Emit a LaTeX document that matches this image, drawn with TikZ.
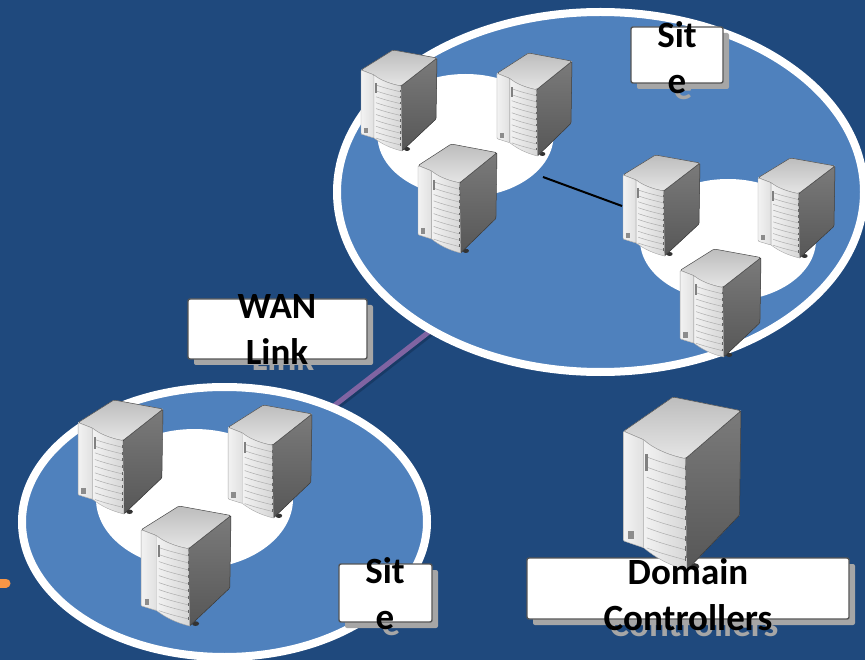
\documentclass[tikz,border=0pt]{standalone}
\usepackage{fontspec}
\setmainfont{Carlito}
\usetikzlibrary{shapes.geometric,shadows}
\definecolor{bgblue}{HTML}{1F497D}
\definecolor{siteblue}{HTML}{4F81BD}
\definecolor{wanpurple}{HTML}{8064A2}
\definecolor{lineshadow}{HTML}{183A66}
\definecolor{boxedge}{HTML}{555555}
\definecolor{shadowgrey}{HTML}{A6A6A6}
\definecolor{dashorange}{HTML}{F79646}
\tikzset{
  x=1pt,y=-1pt,
  sitearea/.style={ellipse,draw=white,fill=siteblue,line width=8pt,inner sep=0pt},
  blob/.style={ellipse,fill=white,inner sep=0pt},
  labelbox/.style={draw=boxedge,fill=white,line width=1.4pt,rounded corners=2pt,inner sep=0pt,
     copy shadow={shadow xshift=6pt,shadow yshift=-6pt,fill=shadowgrey,draw=none}},
  labeltext/.style={font=\fontsize{37}{46}\selectfont\bfseries,align=center,inner sep=0pt,text=black},
  labelshadow/.style={labeltext,text=shadowgrey},
  srv/.style 2 args={xscale=#1/77,yscale=#2/101},
  server/.pic={
    \coordinate (-left) at (0,51);
    % feet
    \fill[black!80] (5,83) ellipse[x radius=3,y radius=2];
    \fill[black!80] (47,99) ellipse[x radius=3,y radius=2];
    \fill[black!80] (71,71) ellipse[x radius=2,y radius=2];
    % body base
    \fill[black!15] (1,20) -- (33,0) -- (77,8) -- (76,69) -- (42,101) -- (14,88) -- (1,84) -- cycle;
    % right side
    \shade[top color=black!52,bottom color=black!66,draw=black!80,line width=.5pt,rounded corners=1pt]
      (41,36) -- (77,8) -- (76,69) -- (42,101) -- cycle;
    % top
    \shade[top color=black!26,bottom color=black!10,draw=black!70,line width=.5pt,rounded corners=1.5pt]
      (1,20) -- (33,0) -- (77,8) -- (41,36) .. controls (30,34) and (20,30) .. (14,25) -- cycle;
    % left strip
    \shade[left color=black!5,right color=black!12,draw=black!35,line width=.4pt,rounded corners=1pt]
      (1,20) -- (14,25) -- (14,88) -- (1,84) -- cycle;
    % door
    \shade[left color=black!5,right color=black!16,draw=black!35,line width=.4pt]
      (14,25) .. controls (20,30) and (30,34) .. (41,36) -- (42,101)
       .. controls (30,98) and (22,94) .. (14,88) -- cycle;
    % slats
    \foreach \k in {0,...,9}{
      \draw[black!32,line width=.5pt] (16,{35+5.9*\k}) .. controls (25,{38+5.9*\k}) .. (41,{42+5.9*\k});
      \draw[black!60,line width=.5pt] (40.7,{40+5.9*\k}) -- (40.7,{42.5+5.9*\k});
    }
    % indicator and button
    \fill[black!50] (15,33) rectangle (17,43);
    \fill[black!45] (4,78) rectangle (8,83);
  }
}
\begin{document}
\begin{tikzpicture}
\path[use as bounding box,fill=bgblue] (0,0) rectangle (865,660);
\begin{scope}
\clip (0,0) rectangle (865,660);
% orange fragment
\coordinate (dashA) at (-8,583);
\coordinate (dashB) at (6,583);
\draw[dashorange,line width=9pt,line cap=round] (dashA) -- (dashB);
% WAN link
\coordinate (wanA) at (440,323.3);
\coordinate (wanB) at (320,416.7);
\draw[lineshadow,line width=5pt] ([shift={(2,2)}]wanA) -- ([shift={(2,2)}]wanB);
\draw[wanpurple,line width=5pt] (wanA) -- (wanB);
% site areas
\node[sitearea,minimum width=527pt,minimum height=360pt] (site1) at (600.5,192) {};
\node[sitearea,minimum width=405pt,minimum height=270pt] (site2) at (224.5,522) {};
\node[blob,minimum width=176pt,minimum height=123pt] (blobA) at (465.5,135.5) {};
\node[blob,minimum width=176pt,minimum height=122pt] (blobB) at (728,240) {};
\node[blob,minimum width=197pt,minimum height=140pt] (blobC) at (194.5,499) {};
% text shadows
\node[labelshadow] (wanS) at (283,336) {WAN\\Link};
\node[labelshadow] (siteAS) at (683,64) {Sit\\e};
\node[labelshadow] (siteBS) at (391,600) {Sit\\e};
\node[labelshadow] (dcS) at (694,601) {Domain\\Controllers};
% label boxes
\node[labelbox,minimum width=179pt,minimum height=60pt] (wanbox) at (277.5,329) {};
\node[labelbox,minimum width=92pt,minimum height=56pt] (siteAbox) at (677,55) {};
\node[labelbox,minimum width=93pt,minimum height=58pt] (siteBbox) at (385.5,593) {};
\node[labelbox,minimum width=322pt,minimum height=61pt] (dcbox) at (688,588.5) {};
% servers
\pic (s1) [srv={77}{101}] at (360,50) {server};
\pic (s2) [srv={76}{103}] at (496,53) {server};
\pic (s3) [srv={80}{109}] at (417,144) {server};
\pic (s4) [srv={78}{101}] at (622,155) {server};
\pic (s5) [srv={78}{100}] at (757,158) {server};
\pic (s6) [srv={82}{108}] at (679,249) {server};
\pic (s7) [srv={86}{114}] at (77,400) {server};
\pic (s8) [srv={85}{113}] at (227,405) {server};
\pic (s9) [srv={91}{120}] at (140,506) {server};
\pic (s10) [srv={119}{173}] at (622,397) {server};
% site link
\coordinate (linkA) at (543,177);
\draw[black,line width=2pt] (linkA) -- (s4-left);
% label texts
\node[labeltext] (wan) at (277,330) {WAN\\Link};
\node[labeltext] (siteA) at (677,58) {Sit\\e};
\node[labeltext] (siteB) at (385,594) {Sit\\e};
\node[labeltext] (dc) at (688,595) {Domain\\Controllers};
\end{scope}
\end{tikzpicture}
\end{document}
